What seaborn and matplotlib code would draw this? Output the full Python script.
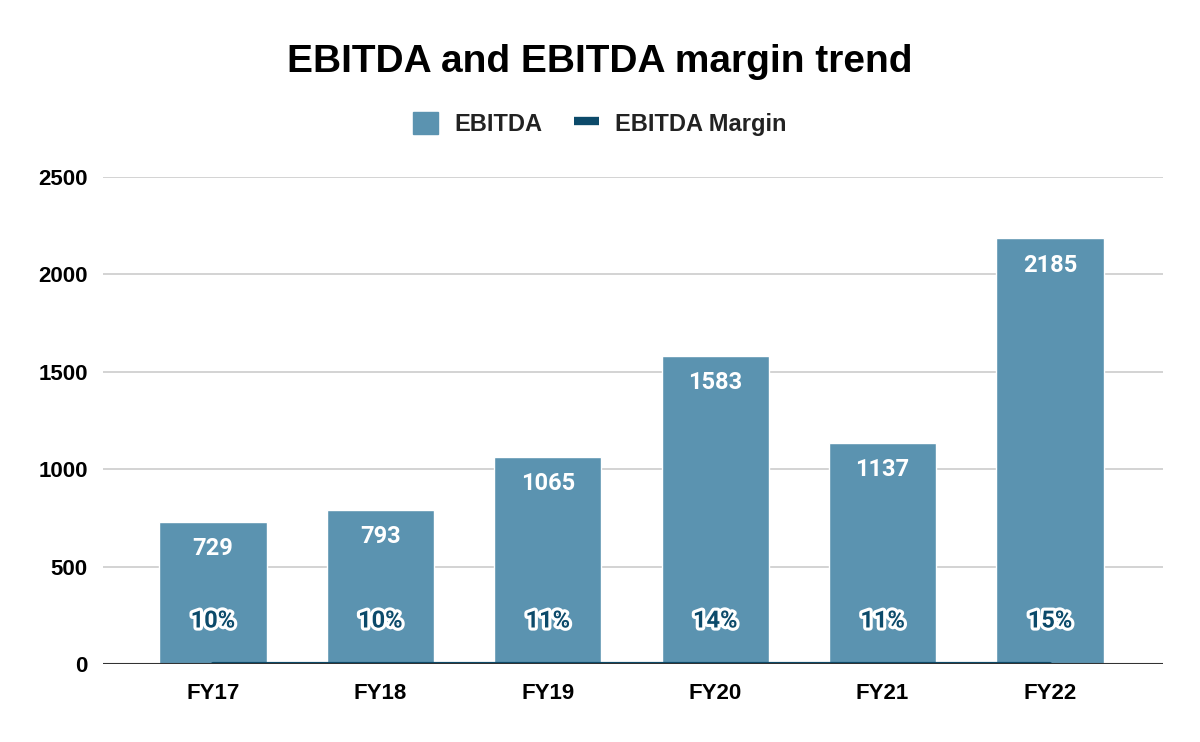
import matplotlib
matplotlib.use("Agg")
import matplotlib.pyplot as plt
import matplotlib.patheffects as pe
from matplotlib.patches import Patch
from matplotlib.lines import Line2D
import seaborn as sns
import pandas as pd

# Data
years = ["FY17", "FY18", "FY19", "FY20", "FY21", "FY22"]
ebitda = [729, 793, 1065, 1583, 1137, 2185]
margin = [0.10, 0.10, 0.11, 0.14, 0.11, 0.15]
margin_labels = ["10%", "10%", "11%", "14%", "11%", "15%"]

bar_color = "#5b93b0"
line_color = "#0c4a6a"

df = pd.DataFrame({"Year": years, "EBITDA": ebitda, "Margin": margin})

sns.set_theme(style="white")
plt.rcParams["font.family"] = ["Liberation Sans", "DejaVu Sans"]

fig = plt.figure(figsize=(12, 7.42), dpi=100)
ax = fig.add_axes([0.0858, 0.1051, 0.8834, 0.6564])

sns.barplot(data=df, x="Year", y="EBITDA", color=bar_color, width=0.64,
            saturation=1, ax=ax, zorder=2)
sns.lineplot(data=df, x="Year", y="Margin", color=line_color, linewidth=3,
             ax=ax, zorder=3)

# bar value labels
for i, v in enumerate(ebitda):
    ax.annotate(str(v), (i, v), xytext=(0, -27), textcoords="offset pixels",
                ha="center", va="center", color="white", fontsize=17,
                fontweight="bold", family=["Roboto", "DejaVu Sans"], zorder=4)

# margin labels
for i, (m, lab) in enumerate(zip(margin, margin_labels)):
    ax.annotate(lab, (i, m), xytext=(0, 43), textcoords="offset pixels",
                ha="center", va="center", color=line_color, fontsize=17,
                fontweight="bold", family=["Roboto", "DejaVu Sans"], zorder=5,
                path_effects=[pe.withStroke(linewidth=4.5, foreground="white")])

ax.set_xlim(-0.657, 5.675)
ax.set_ylim(0, 2500)
ax.set_yticks([0, 500, 1000, 1500, 2000, 2500])
ax.yaxis.grid(True, color="#cccccc", linewidth=1.2, zorder=0)
ax.set_axisbelow(True)
ax.axhline(0, color="#333333", linewidth=1.5, zorder=6)
for s in ax.spines.values():
    s.set_visible(False)
ax.tick_params(axis="both", length=0, labelsize=16, colors="black")
ax.tick_params(axis="x", pad=14)
ax.tick_params(axis="y", pad=11)
for lbl in ax.get_xticklabels() + ax.get_yticklabels():
    lbl.set_fontweight("bold")
ax.set_xlabel("")
ax.set_ylabel("")

fig.text(0.5, 0.916, "EBITDA and EBITDA margin trend", ha="center", va="center",
         fontsize=28, fontweight="bold", color="black")

handles = [Patch(facecolor=bar_color, edgecolor=bar_color, label="EBITDA"),
           Line2D([0], [0], color=line_color, linewidth=6, solid_capstyle="butt",
                  label="EBITDA Margin")]
fig.legend(handles=handles, loc="center", bbox_to_anchor=(0.5, 0.833), ncol=2,
           frameon=False, handlelength=1.06, handleheight=1.06,
           columnspacing=1.36, handletextpad=0.68,
           prop={"size": 17, "weight": "bold"}, labelcolor="#222222")

fig.savefig("out.png", dpi=100)
